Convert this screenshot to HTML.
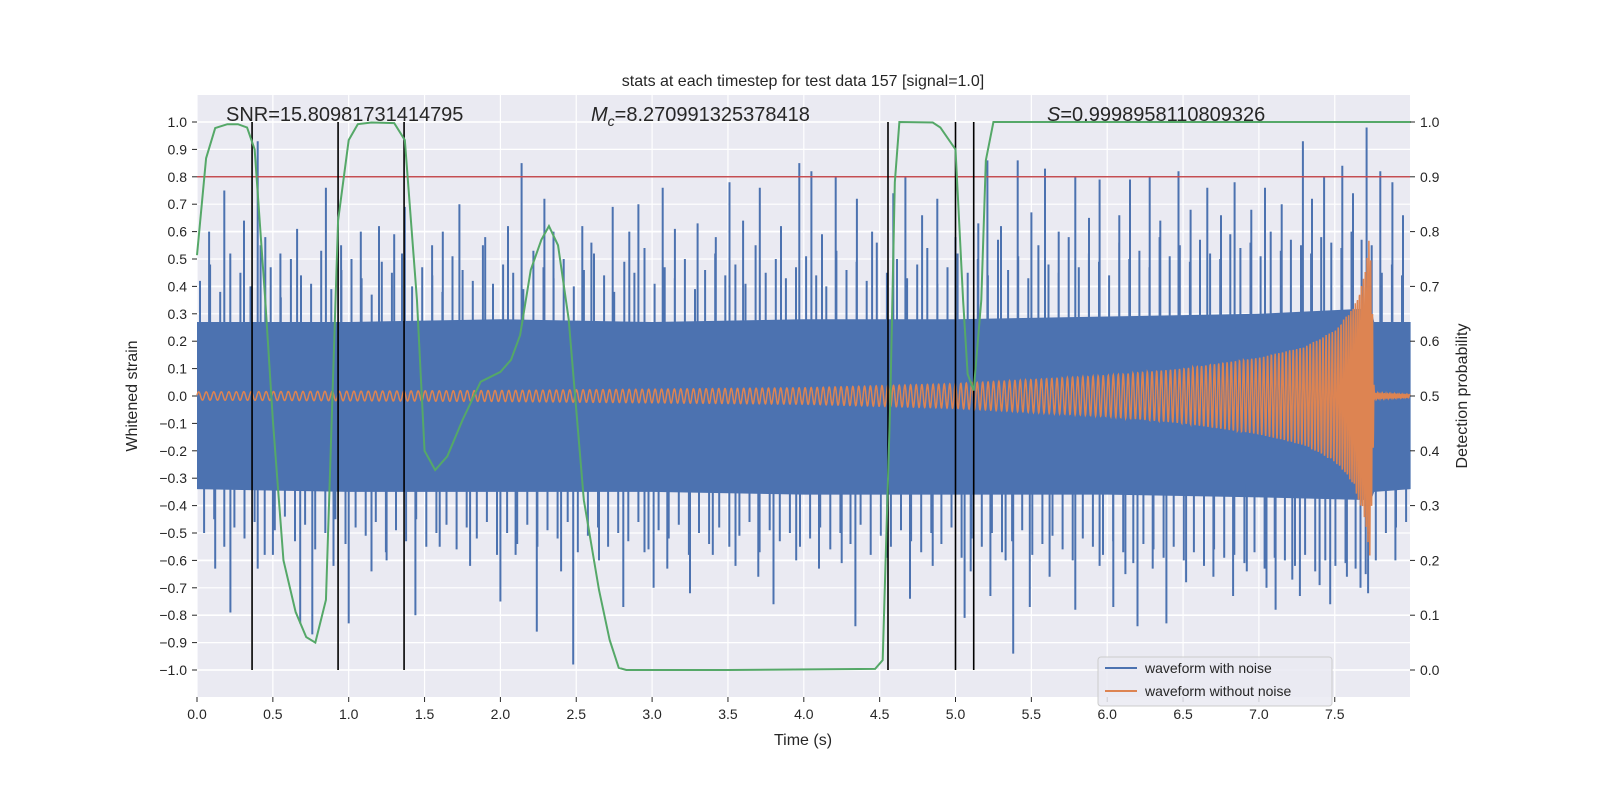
<!DOCTYPE html>
<html><head><meta charset="utf-8"><style>
body{margin:0;background:#fff}
svg{display:block;font-family:"Liberation Sans","DejaVu Sans",sans-serif}
</style></head><body>
<svg id="chart" width="1600" height="800" viewBox="0 0 1600 800" xmlns="http://www.w3.org/2000/svg">
<rect x="0" y="0" width="1600" height="800" fill="#fff"/>
<rect x="197" y="95" width="1213" height="602" fill="#eaeaf2"/>
<g id="grid"></g>
<g id="marks"></g>
<g id="axes"></g>
<text x="803" y="86" font-size="16" text-anchor="middle" fill="#262626">stats at each timestep for test data 157 [signal=1.0]</text>
<text x="226" y="121" font-size="20" fill="#262626">SNR=15.80981731414795</text>
<text x="591" y="121" font-size="20" fill="#262626"><tspan font-style="italic">M</tspan><tspan font-style="italic" font-size="14" dy="5">c</tspan><tspan dy="-5">=8.270991325378418</tspan></text>
<text x="1047" y="121" font-size="20" fill="#262626"><tspan font-style="italic">S</tspan>=0.9998958110809326</text>
<text x="803" y="745" font-size="16" text-anchor="middle" fill="#262626">Time (s)</text>
<text transform="translate(137,396) rotate(-90)" font-size="16" text-anchor="middle" fill="#262626">Whitened strain</text>
<text transform="translate(1467,396) rotate(-90)" font-size="16" text-anchor="middle" fill="#262626">Detection probability</text>
<g>
<rect x="1098" y="657" width="234" height="49" rx="3" fill="#eaeaf2" fill-opacity="0.85" stroke="#cccccc"/>
<line x1="1105" y1="668" x2="1137" y2="668" stroke="#4c72b0" stroke-width="2"/>
<text x="1145" y="673" font-size="14" fill="#262626">waveform with noise</text>
<line x1="1105" y1="691" x2="1137" y2="691" stroke="#dd8452" stroke-width="2"/>
<text x="1145" y="696" font-size="14" fill="#262626">waveform without noise</text>
</g>
</svg>
<script>
const xTicks=[0,0.5,1,1.5,2,2.5,3,3.5,4,4.5,5,5.5,6,6.5,7,7.5];
const yTicks=[-1,-0.9,-0.8,-0.7,-0.6,-0.5,-0.4,-0.3,-0.2,-0.1,0,0.1,0.2,0.3,0.4,0.5,0.6,0.7,0.8,0.9,1];
const y2Ticks=[0,0.1,0.2,0.3,0.4,0.5,0.6,0.7,0.8,0.9,1];
const bandT=[0,1,2,3,4,5,6,7,7.74,7.76,8];
const bandUp=[0.27,0.27,0.28,0.27,0.28,0.28,0.29,0.30,0.32,0.27,0.27];
const bandLo=[-0.34,-0.35,-0.35,-0.35,-0.36,-0.36,-0.36,-0.37,-0.38,-0.35,-0.34];
const spikeT=[0.18,0.40,0.85,1.37,1.73,2.14,2.29,2.54,2.74,2.91,3.07,3.51,3.71,3.97,4.05,4.21,4.35,4.59,4.67,4.88,5.21,5.41,5.59,5.79,5.95,6.15,6.28,6.47,6.66,6.84,7.04,7.29,7.43,7.55,7.71,7.80,7.88,
0.22,0.40,0.68,0.76,1.00,1.15,1.44,2.00,2.24,2.48,2.81,3.01,3.25,3.80,4.34,4.70,5.06,5.23,5.38,5.49,5.79,6.04,6.20,6.39,6.83,7.11,7.27,7.47,7.67,7.90,
0.08,0.31,0.45,0.55,0.66,0.95,1.08,1.20,1.30,1.55,1.62,1.90,2.05,2.35,2.60,2.85,3.15,3.30,3.42,3.60,3.85,4.12,4.45,4.78,5.00,5.15,5.30,5.50,5.68,5.88,6.08,6.35,6.55,6.75,6.95,7.15,7.35,7.62,7.95,
0.12,0.50,0.90,1.25,1.60,1.80,2.10,2.40,2.65,2.95,3.10,3.40,3.55,3.70,3.95,4.10,4.25,4.55,4.85,5.10,5.33,5.62,5.95,6.12,6.30,6.52,6.70,6.92,7.05,7.22,7.40,7.58,7.72];
const spikeV=[0.75,0.93,0.76,0.69,0.70,0.85,0.72,0.62,0.69,0.70,0.76,0.78,0.76,0.85,0.82,0.80,0.72,0.74,0.80,0.72,0.86,0.86,0.83,0.80,0.79,0.79,0.80,0.82,0.76,0.78,0.76,0.93,0.80,0.84,0.98,0.82,0.78,
-0.79,-0.63,-0.83,-0.87,-0.83,-0.64,-0.80,-0.75,-0.86,-0.98,-0.77,-0.70,-0.72,-0.76,-0.84,-0.74,-0.81,-0.73,-0.94,-0.77,-0.78,-0.77,-0.84,-0.83,-0.73,-0.78,-0.73,-0.76,-0.70,-0.60,
0.60,0.64,0.58,0.52,0.61,0.55,0.60,0.62,0.59,0.55,0.60,0.58,0.62,0.60,0.56,0.60,0.61,0.63,0.58,0.64,0.62,0.59,0.60,0.66,0.58,0.63,0.62,0.67,0.60,0.65,0.66,0.64,0.68,0.66,0.68,0.70,0.72,0.74,0.66,
-0.63,-0.58,-0.62,-0.60,-0.55,-0.62,-0.58,-0.64,-0.60,-0.57,-0.63,-0.58,-0.62,-0.66,-0.60,-0.63,-0.61,-0.59,-0.62,-0.64,-0.60,-0.66,-0.62,-0.65,-0.63,-0.68,-0.66,-0.64,-0.70,-0.67,-0.69,-0.66,-0.72];
// medium-height noise excursions, evenly spaced across the 8 s window
const midUp=[0.42,0.48,0.38,0.52,0.45,0.40,0.55,0.47,0.36,0.50,0.44,0.41,0.53,0.39,0.46,0.50,0.43,0.37,0.49,0.45,0.52,0.40,0.47,0.44,0.38,0.51,0.46,0.42,0.55,0.41,0.48,0.45,0.39,0.53,0.47,0.43,0.50,0.40,0.46,0.52,0.44,0.38,0.49,0.45,0.54,0.41,0.47,0.43,0.50,0.39,0.46,0.52,0.44,0.48,0.41,0.55,0.45,0.50,0.43,0.47,
0.51,0.44,0.40,0.53,0.46,0.49,0.42,0.56,0.45,0.50,0.43,0.48,0.54,0.41,0.47,0.52,0.45,0.50,0.44,0.57,0.46,0.51,0.43,0.55,0.48,0.45,0.58,0.47,0.52,0.49,0.44,0.56,0.50,0.53,0.47,0.58,0.51,0.55,0.49,0.57,0.52,0.50,0.59,0.54,0.56,0.51,0.60,0.53,0.57,0.55,0.52,0.58,0.56,0.54,0.60,0.57,0.55,0.45,0.48,0.44];
const midLo=[-0.50,-0.45,-0.55,-0.48,-0.52,-0.46,-0.58,-0.49,-0.44,-0.53,-0.47,-0.56,-0.50,-0.45,-0.54,-0.48,-0.51,-0.46,-0.57,-0.49,-0.53,-0.45,-0.55,-0.50,-0.47,-0.56,-0.48,-0.52,-0.46,-0.58,-0.50,-0.54,-0.47,-0.55,-0.49,-0.52,-0.46,-0.57,-0.51,-0.48,-0.55,-0.50,-0.53,-0.46,-0.56,-0.49,-0.52,-0.47,-0.58,-0.50,-0.54,-0.48,-0.55,-0.51,-0.46,-0.57,-0.49,-0.53,-0.50,-0.55,
-0.52,-0.48,-0.56,-0.50,-0.54,-0.47,-0.58,-0.51,-0.55,-0.49,-0.53,-0.57,-0.50,-0.54,-0.48,-0.59,-0.52,-0.55,-0.50,-0.57,-0.53,-0.49,-0.58,-0.54,-0.51,-0.56,-0.60,-0.52,-0.55,-0.58,-0.53,-0.57,-0.61,-0.54,-0.56,-0.59,-0.55,-0.60,-0.57,-0.62,-0.56,-0.59,-0.58,-0.61,-0.57,-0.63,-0.59,-0.60,-0.62,-0.58,-0.64,-0.60,-0.62,-0.61,-0.63,-0.65,-0.60,-0.50,-0.48,-0.46];
const ampT=[0,2,4,5,6,6.5,7,7.3,7.5,7.62,7.7,7.73,7.75,7.76,8];
const ampA=[0.015,0.02,0.03,0.045,0.075,0.1,0.14,0.18,0.24,0.32,0.45,0.6,0.3,0.01,0.005];
const freqT=[0,2,4,6,7,7.5,7.76,8];
const freqF=[20,22,25,30,38,50,90,90];
const probT=[0,0.06,0.12,0.2,0.27,0.33,0.38,0.45,0.5,0.57,0.65,0.72,0.78,0.85,0.93,1.0,1.06,1.15,1.3,1.37,1.45,1.5,1.57,1.65,1.75,1.87,2.0,2.07,2.13,2.2,2.27,2.32,2.38,2.45,2.55,2.65,2.72,2.78,2.83,3.5,4.47,4.52,4.57,4.6,4.63,4.85,4.9,5.0,5.05,5.08,5.12,5.17,5.2,5.25,6,7,8];
const probV=[0.757,0.934,0.989,0.996,0.996,0.99,0.95,0.675,0.456,0.2,0.106,0.06,0.05,0.128,0.82,0.967,0.996,0.999,0.998,0.967,0.675,0.40,0.365,0.39,0.456,0.526,0.544,0.566,0.611,0.73,0.785,0.81,0.775,0.64,0.31,0.146,0.055,0.004,0.0,0.0,0.002,0.018,0.49,0.89,1.0,0.999,0.99,0.95,0.675,0.54,0.51,0.675,0.93,1.0,1.0,1.0,1.0];
const vlineT=[0.363,0.93,1.365,4.555,5.0,5.12];
const threshold=0.9;

const NS="http://www.w3.org/2000/svg";
const X0=197,X1=1410,PT=95,PB=697;
const xs=t=>X0+t*(X1-X0)/7.996;
const ys=v=>396-v*274;
const ys2=p=>670-p*548;
function mk(tag,attrs,parent){const e=document.createElementNS(NS,tag);for(const k in attrs)e.setAttribute(k,attrs[k]);parent.appendChild(e);return e;}
function interp(T,V,t){if(t<=T[0])return V[0];for(let i=1;i<T.length;i++){if(t<=T[i]){const f=(t-T[i-1])/(T[i]-T[i-1]);return V[i-1]+f*(V[i]-V[i-1]);}}return V[V.length-1];}
const grid=document.getElementById('grid'),marks=document.getElementById('marks'),axes=document.getElementById('axes');
xTicks.forEach(t=>{const l=mk('line',{x1:xs(t),x2:xs(t),y1:PT,y2:PB,stroke:'#fff','stroke-width':1.2},grid);


const tl=mk('line',{x1:xs(t),x2:xs(t),y1:PB,y2:PB+5,stroke:'#262626'},axes);


const tx=mk('text',{x:xs(t),y:PB+22,'font-size':14,'text-anchor':'middle',fill:'#262626'},axes);tx.textContent=t.toFixed(1);

});
yTicks.forEach(v=>{const l=mk('line',{x1:X0,x2:X1,y1:ys(v),y2:ys(v),stroke:'#fff','stroke-width':1.2},grid);


const tl=mk('line',{x1:X0-5,x2:X0,y1:ys(v),y2:ys(v),stroke:'#262626'},axes);


const tx=mk('text',{x:X0-10,y:ys(v)+5,'font-size':14,'text-anchor':'end',fill:'#262626'},axes);tx.textContent=(Math.abs(v)<1e-9?0:v).toFixed(1).replace('-','\u2212');

});
y2Ticks.forEach(p=>{const l=mk('line',{x1:X0,x2:X1,y1:ys2(p),y2:ys2(p),stroke:'#fff','stroke-width':1.6},grid);


const tl=mk('line',{x1:X1,x2:X1+5,y1:ys2(p),y2:ys2(p),stroke:'#262626'},axes);


const tx=mk('text',{x:X1+10,y:ys2(p)+5,'font-size':14,fill:'#262626'},axes);tx.textContent=p.toFixed(1);

});
// noise band
let up=bandT.map((t,i)=>xs(t)+','+ys(bandUp[i])).join(' ');
let lo=bandT.slice().reverse().map((t,i)=>xs(t)+','+ys(bandLo[bandT.length-1-i])).join(' ');
const band=mk('polygon',{points:up+' '+lo,fill:'#4c72b0'},marks);


let sp='';
spikeT.forEach((t,i)=>{const base=spikeV[i]>0?interp(bandT,bandUp,t)-0.05:interp(bandT,bandLo,t)+0.05;sp+=`M${xs(t).toFixed(1)},${ys(base).toFixed(1)}V${ys(spikeV[i]).toFixed(1)}`;});
const nU=midUp.length;
midUp.forEach((v,i)=>{const t=(i+0.3)*7.99/nU;sp+=`M${xs(t).toFixed(1)},${ys(0.2).toFixed(1)}V${ys(v).toFixed(1)}`;});
const nL=midLo.length;
midLo.forEach((v,i)=>{const t=(i+0.7)*7.99/nL;sp+=`M${xs(t).toFixed(1)},${ys(-0.25).toFixed(1)}V${ys(v).toFixed(1)}`;});
const spk=mk('path',{d:sp,stroke:'#4c72b0','stroke-width':2,fill:'none'},marks);


// clean chirp
let d='',ph=0,dt=0.0015;for(let t=0;t<=7.996;t+=dt){ph+=2*Math.PI*interp(freqT,freqF,t)*dt;const v=interp(ampT,ampA,t)*Math.sin(ph);d+=(d?'L':'M')+xs(t).toFixed(2)+','+ys(v).toFixed(2);}
const ch=mk('path',{d:d,stroke:'#dd8452','stroke-width':1.5,fill:'none'},marks);


const th=mk('line',{x1:X0,x2:X1,y1:ys2(threshold),y2:ys2(threshold),stroke:'#c44e52','stroke-width':1.5},marks);


vlineT.forEach(t=>{const l=mk('line',{x1:xs(t),x2:xs(t),y1:ys2(1),y2:ys2(0),stroke:'#000','stroke-width':1.6},marks);

});
const pr=mk('polyline',{points:probT.map((t,i)=>xs(t)+','+ys2(probV[i])).join(' '),stroke:'#55a868','stroke-width':2,fill:'none'},marks);


</script>
</body></html>
